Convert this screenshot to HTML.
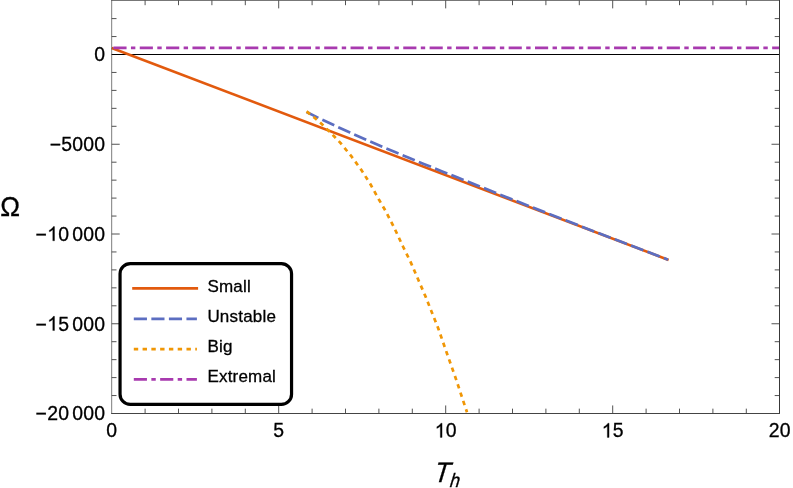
<!DOCTYPE html>
<html><head><meta charset="utf-8"><title>Plot</title>
<style>
html,body{margin:0;padding:0;background:#fff;}
svg{display:block;will-change:transform}
text{font-family:"Liberation Sans",sans-serif;fill:#000;stroke:#000;stroke-width:0.3px}
.tl{font-size:19.4px;letter-spacing:0.22px}
.lg{font-size:17px;letter-spacing:0.2px}
</style></head><body>
<svg width="793" height="488" viewBox="0 0 793 488">
<rect width="793" height="488" fill="#fff"/>
<!-- frame -->
<path d="M145.10 413.45v-4.8M145.10 0.40v4.8M178.50 413.45v-4.8M178.50 0.40v4.8M211.90 413.45v-4.8M211.90 0.40v4.8M245.30 413.45v-4.8M245.30 0.40v4.8M278.70 413.45v-8M278.70 0.40v8M312.10 413.45v-4.8M312.10 0.40v4.8M345.50 413.45v-4.8M345.50 0.40v4.8M378.90 413.45v-4.8M378.90 0.40v4.8M412.30 413.45v-4.8M412.30 0.40v4.8M445.70 413.45v-8M445.70 0.40v8M479.10 413.45v-4.8M479.10 0.40v4.8M512.50 413.45v-4.8M512.50 0.40v4.8M545.90 413.45v-4.8M545.90 0.40v4.8M579.30 413.45v-4.8M579.30 0.40v4.8M612.70 413.45v-8M612.70 0.40v8M646.10 413.45v-4.8M646.10 0.40v4.8M679.50 413.45v-4.8M679.50 0.40v4.8M712.90 413.45v-4.8M712.90 0.40v4.8M746.30 413.45v-4.8M746.30 0.40v4.8M111.70 413.50h8M779.50 413.50h-8M111.70 395.55h4.8M779.50 395.55h-4.8M111.70 377.60h4.8M779.50 377.60h-4.8M111.70 359.65h4.8M779.50 359.65h-4.8M111.70 341.70h4.8M779.50 341.70h-4.8M111.70 323.75h8M779.50 323.75h-8M111.70 305.80h4.8M779.50 305.80h-4.8M111.70 287.85h4.8M779.50 287.85h-4.8M111.70 269.90h4.8M779.50 269.90h-4.8M111.70 251.95h4.8M779.50 251.95h-4.8M111.70 234.00h8M779.50 234.00h-8M111.70 216.05h4.8M779.50 216.05h-4.8M111.70 198.10h4.8M779.50 198.10h-4.8M111.70 180.15h4.8M779.50 180.15h-4.8M111.70 162.20h4.8M779.50 162.20h-4.8M111.70 144.25h8M779.50 144.25h-8M111.70 126.30h4.8M779.50 126.30h-4.8M111.70 108.35h4.8M779.50 108.35h-4.8M111.70 90.40h4.8M779.50 90.40h-4.8M111.70 72.45h4.8M779.50 72.45h-4.8M111.70 54.50h8M779.50 54.50h-8M111.70 36.55h4.8M779.50 36.55h-4.8M111.70 18.60h4.8M779.50 18.60h-4.8" stroke="#404040" stroke-width="0.9" fill="none"/>
<!-- axis y=0 -->
<line x1="111.7" x2="779.5" y1="54.50" y2="54.50" stroke="#000" stroke-width="1"/>
<!-- curves -->
<path d="M111.7 48 L668.6 259.93" stroke="#E25A0E" stroke-width="2.6" fill="none"/>
<path d="M306.6 112.01 L320 118.66 L335 125.67 L350 132.57 L365 139.33 L380 145.84 L395 152.10 L410 158.30 L425 164.41 L441 170.90 L457.7 177.60 L480 186.54 L506 196.93 L540 210.37 L580 225.94 L620 241.33 L668 259.67" stroke="#5C6EC1" stroke-width="2.7" fill="none" stroke-dasharray="13.15 4.4" stroke-linejoin="round"/>
<path d="M306.6 111.4 L308.07 112.6 L315.1 118.2 L321.7 124.0 L328.05 130.1 L334.3 136.5 L340.4 142.9 L351.7 156.7 L361.8 170.6 L370.6 184.5 L378.6 199.0 L385.6 211.0 L394.2 227.7 L403.1 246.7 L411.1 263.1 L418.7 280.7 L425.8 297.1 L431.3 311 L438 327.7 L446.8 353 L455.7 378.2 L463.2 400.9 L467 412.2" stroke="#F09605" stroke-width="2.7" fill="none" stroke-dasharray="4.4 4.38" stroke-linejoin="round"/>
<path d="M113.4 47.9H779.5" stroke="#A83AAF" stroke-width="2.7" fill="none" stroke-dasharray="13.15 4.4 4.4 4.4"/>
<path d="M111.68 0V413.9" stroke="#404040" stroke-width="0.68" fill="none"/>
<path d="M111.3 0.4H780" stroke="#404040" stroke-width="0.8" fill="none"/>
<path d="M779.5 0V414" stroke="#383838" stroke-width="1" fill="none"/>
<path d="M111.3 413.5H780" stroke="#444" stroke-width="1" fill="none"/>
<!-- tick labels -->
<g class="tl">
<text x="106.19" y="437.4">0</text>
<text x="273.19" y="437.4">5</text>
<path transform="translate(434.69,437.40) scale(0.009668,-0.009668)" d="M763 0H583V1147Q518 1085 412.5 1023T223 930V1104Q373 1174.5 485 1274.5T644 1469H763Z" fill="#000" stroke="#000" stroke-width="31.0"/><text x="445.70" y="437.4">0</text>
<path transform="translate(601.69,437.40) scale(0.009668,-0.009668)" d="M763 0H583V1147Q518 1085 412.5 1023T223 930V1104Q373 1174.5 485 1274.5T644 1469H763Z" fill="#000" stroke="#000" stroke-width="31.0"/><text x="612.70" y="437.4">5</text>
<text x="768.69" y="437.4">20</text>
<text x="105.2" y="61.3" text-anchor="end">0</text>
<text x="105.2" y="151.1" text-anchor="end">−5000</text>
<text x="72.16" y="240.8">000</text><text x="58.15" y="240.8">0</text><path transform="translate(47.14,240.80) scale(0.009668,-0.009668)" d="M763 0H583V1147Q518 1085 412.5 1023T223 930V1104Q373 1174.5 485 1274.5T644 1469H763Z" fill="#000" stroke="#000" stroke-width="31.0"/><text x="47.14" y="240.8" text-anchor="end">−</text>
<text x="72.16" y="330.6">000</text><text x="58.15" y="330.6">5</text><path transform="translate(47.14,330.55) scale(0.009668,-0.009668)" d="M763 0H583V1147Q518 1085 412.5 1023T223 930V1104Q373 1174.5 485 1274.5T644 1469H763Z" fill="#000" stroke="#000" stroke-width="31.0"/><text x="47.14" y="330.6" text-anchor="end">−</text>
<text x="72.16" y="420.3">000</text><text x="58.15" y="420.3">0</text><text x="47.14" y="420.3">2</text><text x="47.14" y="420.3" text-anchor="end">−</text>
</g>
<text transform="translate(0.15,215.75) scale(0.955,1)" font-size="27.7px" stroke-width="0.5">Ω</text>
<text transform="translate(433.6,481.7) skewX(-7) scale(0.92,1)" font-size="28.3px" font-style="italic">T<tspan font-size="19.4px" dy="4.8" dx="0.55">h</tspan></text>
<!-- legend -->
<rect x="120.05" y="263.65" width="171.5" height="140.75" rx="10.2" ry="10.2" fill="#fff" stroke="#000" stroke-width="3.2"/>
<path d="M132.2 288.4H198.1" stroke="#E25A0E" stroke-width="2.7"/>
<path d="M133.8 318.8H196.9" stroke="#5C6EC1" stroke-width="2.7" stroke-dasharray="13.15 4.4"/>
<path d="M133.8 349.1H196.9" stroke="#F09605" stroke-width="2.7" stroke-dasharray="4.4 4.38"/>
<path d="M133.8 379.4H196.9" stroke="#A83AAF" stroke-width="2.7" stroke-dasharray="13.15 4.4 4.4 4.4"/>
<g class="lg">
<text x="207.4" y="291.6">Small</text>
<text x="207.4" y="321.9">Unstable</text>
<text x="207.4" y="352.2">Big</text>
<text x="207.4" y="382.1">Extremal</text>
</g>
</svg>
</body></html>
